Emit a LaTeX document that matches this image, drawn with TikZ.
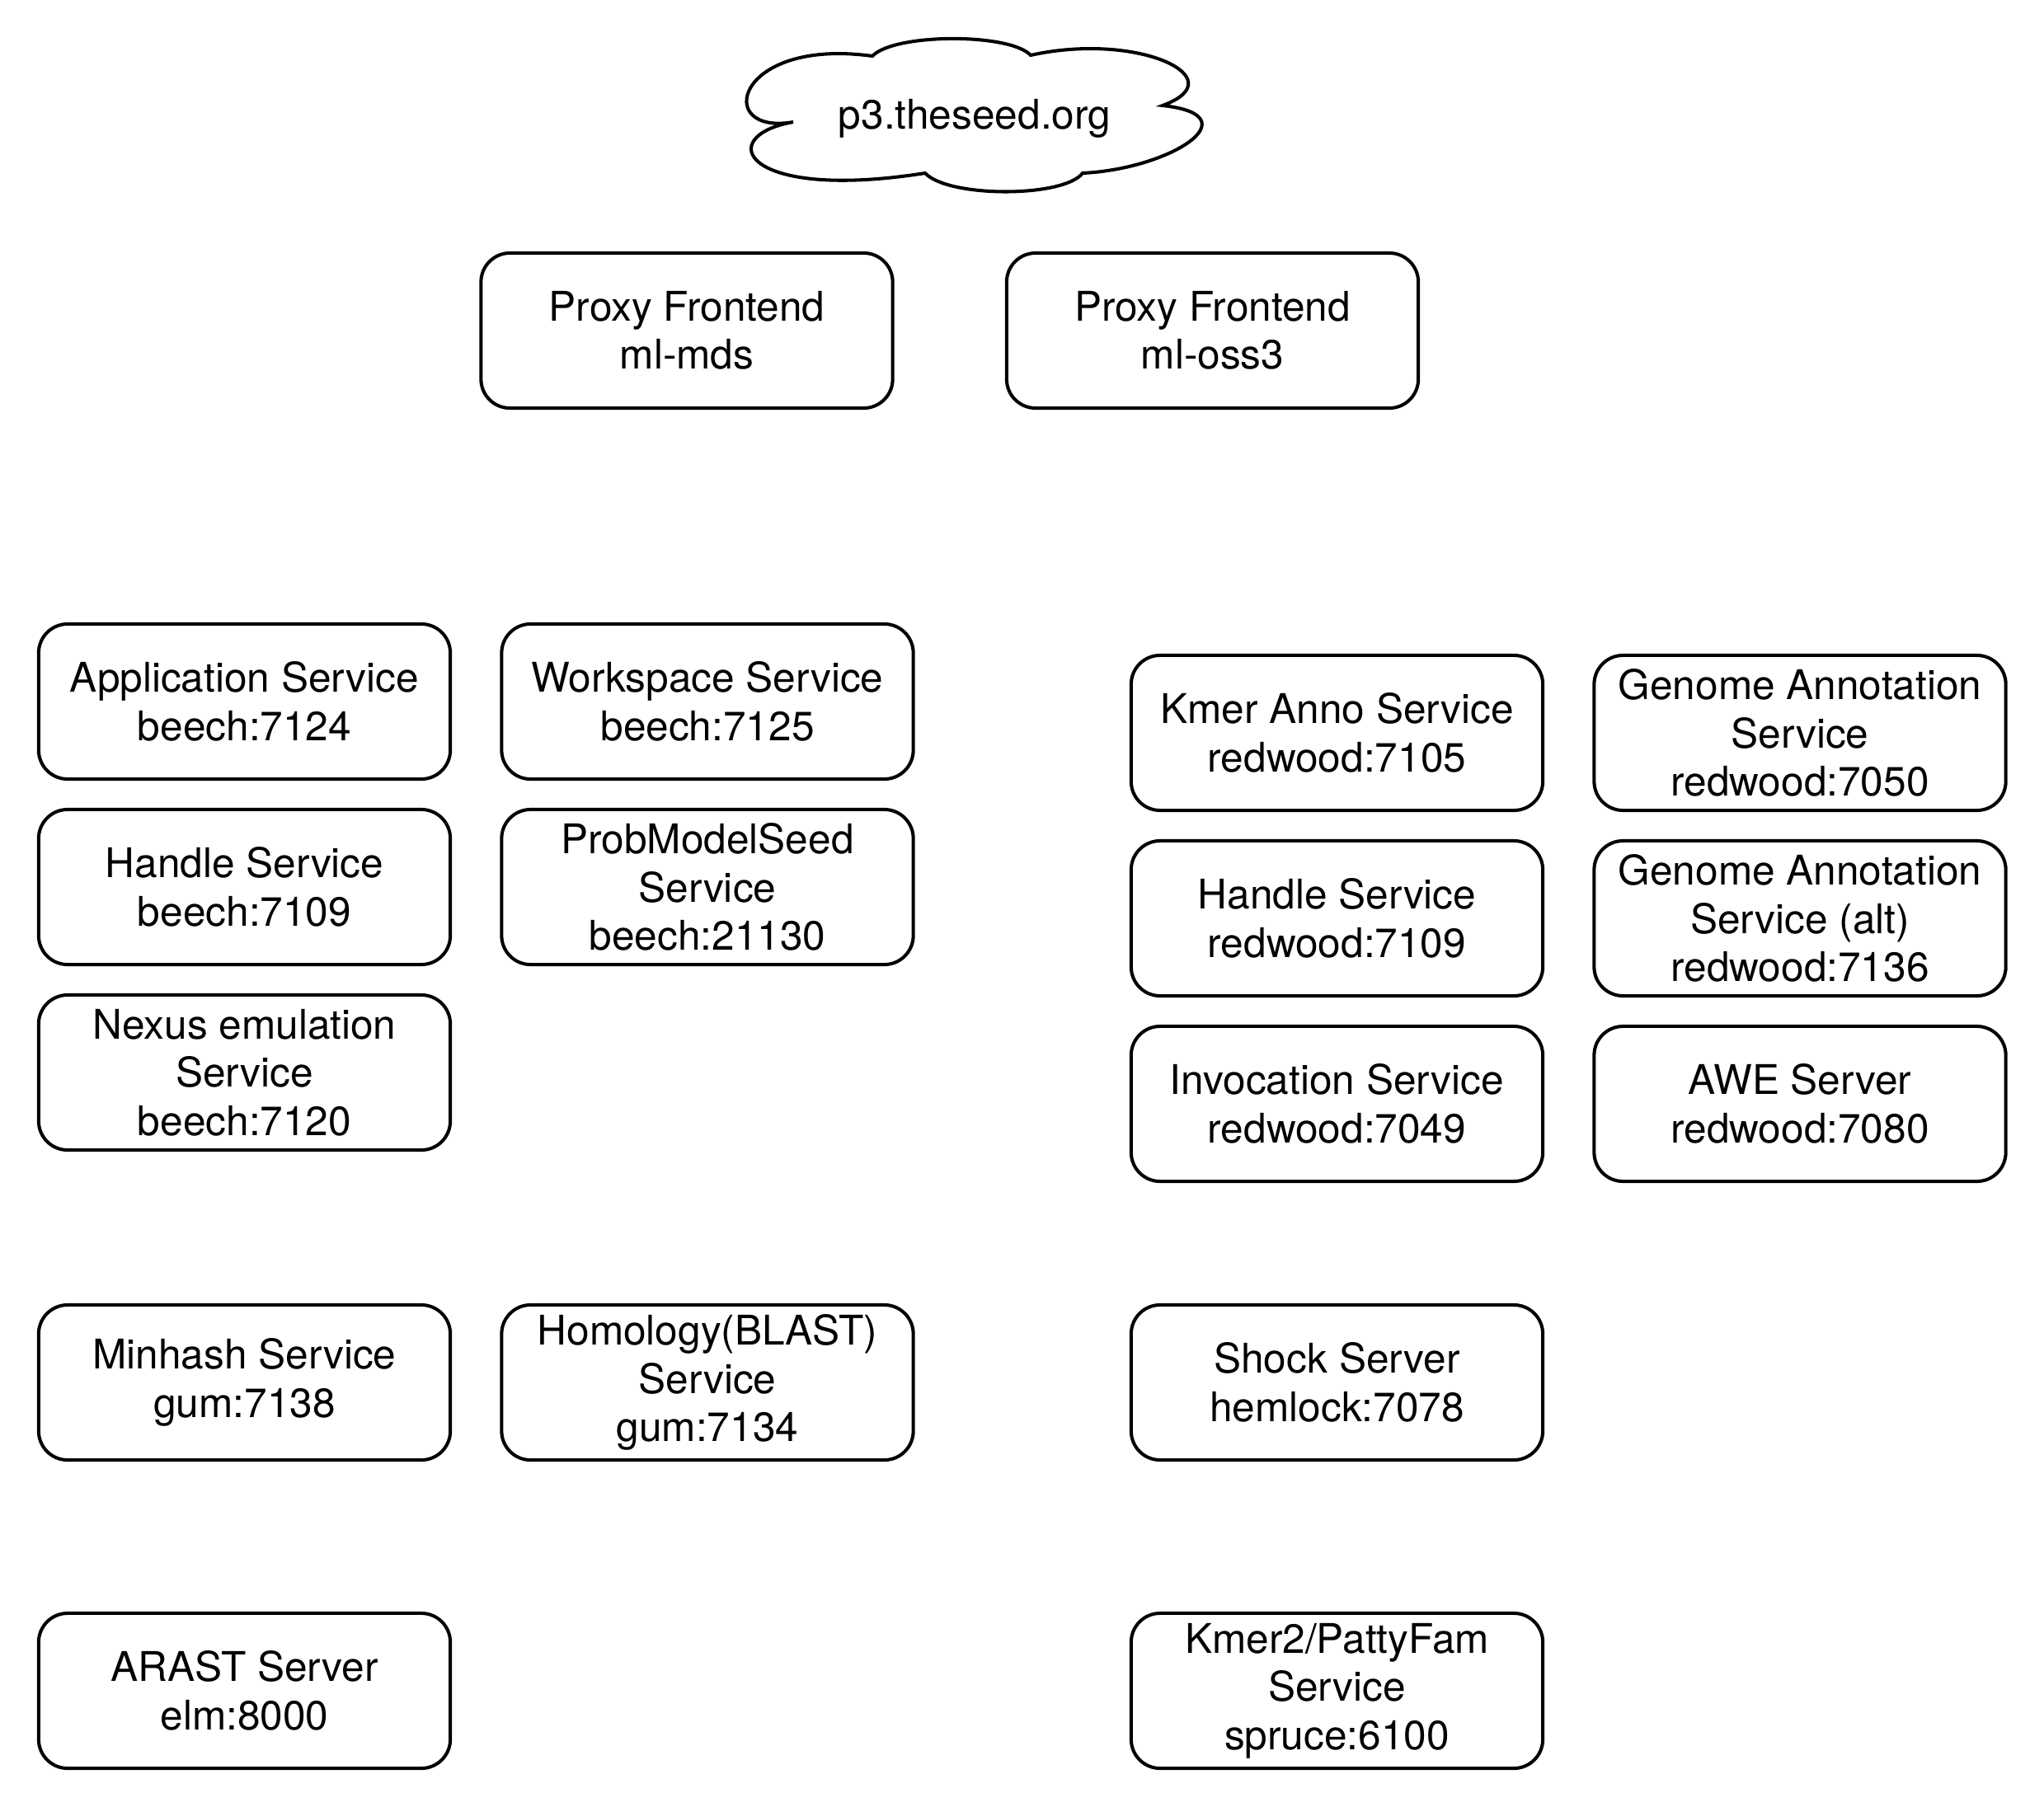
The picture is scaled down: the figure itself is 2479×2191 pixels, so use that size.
\documentclass[tikz,border=0pt]{standalone}
\usepackage{fontspec}
\setmainfont{TeX Gyre Heros}
\begin{document}
\begin{tikzpicture}[x=0.01cm, y=-0.01cm,
  txt/.style={font=\fontsize{14.1}{16.65}\selectfont},
  box/.style={txt, draw, line width=1.15pt, rounded corners=10pt,
    minimum width=4.99cm, minimum height=1.88cm, inner sep=0pt, align=center},
  cloudline/.style={draw, line width=1.15pt, line join=miter}]
\useasboundingbox (0,0) rectangle (2479,2191);

% cloud outline, six lobes joined at cusps
\path[cloudline]
  (1058,68) .. controls (890,45) and (865,165) .. (962,148)
  .. controls (865,165) and (900,245) .. (1122,210)
  .. controls (1150,240) and (1290,240) .. (1313,210)
  .. controls (1420,205) and (1520,140) .. (1410,128)
  .. controls (1500,95) and (1380,38) .. (1250,67)
  .. controls (1225,40) and (1085,40) .. (1058,68) -- cycle;
\node[txt, anchor=base] (cloud) at (1182,157) {p3.theseed.org};

% proxy frontends
\node[box] (pmds) at (833,401)    {Proxy Frontend\\ml-mds};
\node[box] (poss) at (1470.5,401) {Proxy Frontend\\ml-oss3};

% beech / gum / elm services
\node[box] (app)   at (296.5,851)  {Application Service\\beech:7124};
\node[box] (ws)    at (858,851)    {Workspace Service\\beech:7125};
\node[box] (hdl)   at (296.5,1076) {Handle Service\\beech:7109};
\node[box] (pms)   at (858,1076)   {ProbModelSeed\\Service\\beech:21130};
\node[box] (nex)   at (296.5,1301) {Nexus emulation\\Service\\beech:7120};
\node[box] (minh)  at (296.5,1677) {Minhash Service\\gum:7138};
\node[box] (hom)   at (858,1677)   {Homology(BLAST)\\Service\\gum:7134};
\node[box] (arast) at (296.5,2051) {ARAST Server\\elm:8000};

% redwood / hemlock / spruce services
\node[box] (kmer)  at (1621.5,889)  {Kmer Anno Service\\redwood:7105};
\node[box] (ga)    at (2183,889)    {Genome Annotation\\Service\\redwood:7050};
\node[box] (hdl2)  at (1621.5,1114) {Handle Service\\redwood:7109};
\node[box] (gaalt) at (2183,1114)   {Genome Annotation\\Service (alt)\\redwood:7136};
\node[box] (inv)   at (1621.5,1339) {Invocation Service\\redwood:7049};
\node[box] (awe)   at (2183,1339)   {AWE Server\\redwood:7080};
\node[box] (shock) at (1621.5,1677) {Shock Server\\hemlock:7078};
\node[box] (kmer2) at (1621.5,2051) {Kmer2/PattyFam\\Service\\spruce:6100};
\end{tikzpicture}
\end{document}
